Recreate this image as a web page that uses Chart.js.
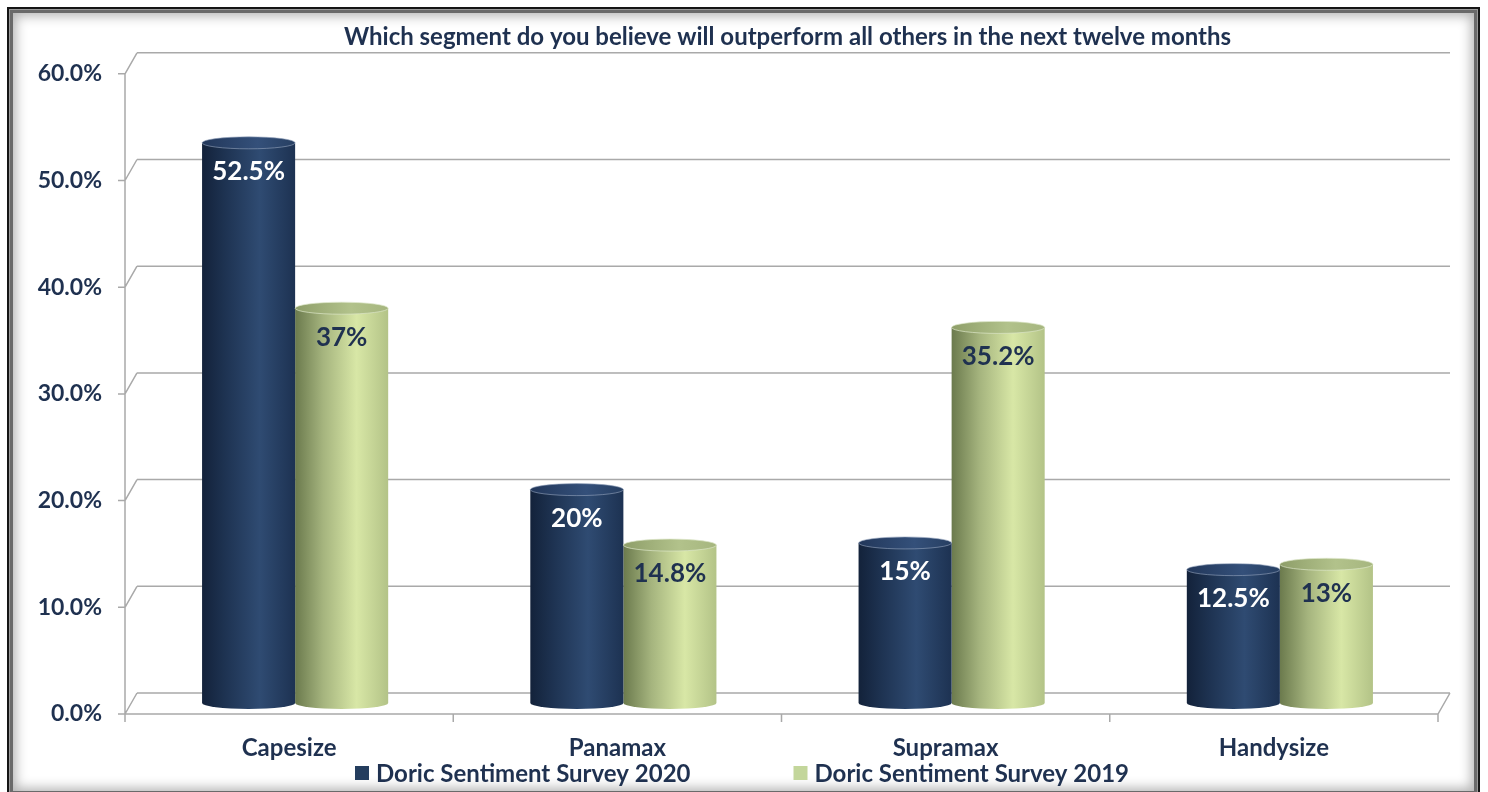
<!DOCTYPE html>
<html>
<head>
<meta charset="utf-8">
<script src="https://cdn.jsdelivr.net/npm/chart.js@4.4.0/dist/chart.umd.min.js"></script>
<style>
html, body { margin: 0; padding: 0; background: #fff; }
body { width: 1488px; height: 792px; overflow: hidden; position: relative; }
#frame {
    position: absolute; left: 7px; top: 7px; width: 1469px; height: 786px;
    border: 2px solid #151515;
    box-shadow: inset 0 0 0 1px #9a9a9a, inset 0 0 0 4px #6a6a6a, inset 0 0 12px 7px #b4b4b4;
}
#myChart { position: absolute; left: 0; top: 0; }
</style>
</head>
<body>
<div id="frame"></div>
<canvas id="myChart" width="1488" height="792"></canvas>
<script>
var segments = ['Capesize', 'Panamax', 'Supramax', 'Handysize'];
var survey2020 = [52.5, 20, 15, 12.5];
var survey2019 = [37, 14.8, 35.2, 13];
var seriesNames = ['Doric Sentiment Survey 2020', 'Doric Sentiment Survey 2019'];
var yMin = 0, yMax = 60, yStep = 10;

var navy = '#1f3150';
var fontName = 'Lato, "Open Sans", sans-serif';
var catPct = 0.567;

var darkStops = [[0, '#13223a'], [0.25, '#1e3352'], [0.62, '#2f4b72'], [1, '#1d3252']];
var greenStops = [[0, '#6b7a4d'], [0.3, '#a5b47e'], [0.66, '#d8e7a6'], [1, '#b3c387']];
var darkTop = [[0, '#22375a'], [0.6, '#34507a'], [1, '#273f62']];
var greenTop = [[0, '#8e9e69'], [0.6, '#b2c28b'], [1, '#a6b67f']];

function barCenter(chart, dsIndex, i) {
    var xs = chart.scales.x;
    var w = xs.width / segments.length * catPct / 2;
    return { cx: xs.getPixelForValue(i) + (dsIndex - 0.5) * w, w: w };
}

function hGradient(ctx, left, right, stops) {
    var g = ctx.createLinearGradient(left, 0, right, 0);
    stops.forEach(function (s) { g.addColorStop(s[0], s[1]); });
    return g;
}

function bodyFill(stops) {
    return function (c) {
        if (c.dataIndex === undefined || !c.chart.scales.x) return stops[2][1];
        var b = barCenter(c.chart, c.datasetIndex, c.dataIndex);
        if (!isFinite(b.cx) || !isFinite(b.w) || b.w <= 0) return stops[2][1];
        return hGradient(c.chart.ctx, b.cx - b.w / 2, b.cx + b.w / 2, stops);
    };
}

// 3D walls: back gridlines, left side edges, floor
var wallPlugin = {
    id: 'walls',
    beforeDatasetsDraw: function (chart) {
        var ctx = chart.ctx, a = chart.chartArea, ys = chart.scales.y, xs = chart.scales.x;
        var dx = 6, back = 10, front = 11;
        ctx.save();
        ctx.strokeStyle = '#a9a9a9';
        ctx.lineWidth = 1.5;
        ctx.beginPath();
        ys.ticks.forEach(function (t) {
            var py = ys.getPixelForValue(t.value);
            ctx.moveTo(a.left + dx, py - back);
            ctx.lineTo(a.right + dx, py - back);
            ctx.moveTo(a.left - dx, py + front);
            ctx.lineTo(a.left + dx, py - back);
            ctx.moveTo(a.left - dx - 7, py + front);
            ctx.lineTo(a.left - dx, py + front);
        });
        ctx.moveTo(a.left - dx, a.top + front);
        ctx.lineTo(a.left - dx, a.bottom + front);
        ctx.lineTo(a.right - dx, a.bottom + front);
        ctx.lineTo(a.right + dx, a.bottom - back);
        var half = (xs.getPixelForValue(1) - xs.getPixelForValue(0)) / 2;
        for (var i = 0; i <= segments.length; i++) {
            var px = xs.getPixelForValue(0) - half + i * 2 * half - dx;
            ctx.moveTo(px, a.bottom + front);
            ctx.lineTo(px, a.bottom + front + 8);
        }
        ctx.stroke();
        ctx.restore();
    }
};

// cylinder caps and value labels
var cylinderPlugin = {
    id: 'cylinders',
    afterDatasetsDraw: function (chart) {
        var ctx = chart.ctx;
        chart.data.datasets.forEach(function (ds, d) {
            var meta = chart.getDatasetMeta(d);
            meta.data.forEach(function (el, i) {
                var rx = el.width / 2, ry = 6;
                var l = el.x - rx, r = el.x + rx;
                ctx.save();
                // bottom rim
                ctx.beginPath();
                ctx.ellipse(el.x, el.base, rx, ry, 0, 0, Math.PI);
                ctx.fillStyle = hGradient(ctx, l, r, d === 0 ? darkStops : greenStops);
                ctx.fill();
                // top cap
                ctx.beginPath();
                ctx.ellipse(el.x, el.y, rx, ry, 0, 0, Math.PI * 2);
                ctx.fillStyle = hGradient(ctx, l, r, d === 0 ? darkTop : greenTop);
                ctx.fill();
                ctx.strokeStyle = d === 0 ? 'rgba(150,165,190,0.6)' : 'rgba(220,230,200,0.7)';
                ctx.lineWidth = 1;
                ctx.stroke();
                // value label
                ctx.font = 'bold 26px ' + fontName;
                ctx.textAlign = 'center';
                ctx.textBaseline = 'middle';
                ctx.fillStyle = d === 0 ? '#ffffff' : navy;
                ctx.fillText(ds.data[i] + '%', el.x, el.y + 29);
                ctx.restore();
            });
        });
    }
};

// legend at the bottom, with Excel-like spacing
var legendPlugin = {
    id: 'bottomLegend',
    afterDraw: function (chart) {
        var ctx = chart.ctx;
        var box = 14, gapBox = 7, gapItem = 103, y = 773;
        ctx.save();
        ctx.font = 'bold 24px ' + fontName;
        ctx.textBaseline = 'middle';
        ctx.textAlign = 'left';
        var widths = chart.data.datasets.map(function (ds) {
            return box + gapBox + ctx.measureText(ds.label).width;
        });
        var total = widths[0] + gapItem + widths[1];
        var x = 742 - total / 2;
        chart.data.datasets.forEach(function (ds, d) {
            ctx.fillStyle = ds.legendColor;
            ctx.fillRect(x, y - box / 2, box, box);
            ctx.fillStyle = navy;
            ctx.fillText(ds.label, x + box + gapBox, y + 1);
            x += widths[d] + gapItem;
        });
        ctx.restore();
    }
};

var ctx = document.getElementById('myChart');
var myChart = new Chart(ctx, {
    type: 'bar',
    data: {
        labels: segments,
        datasets: [{
            label: seriesNames[0],
            data: survey2020,
            backgroundColor: bodyFill(darkStops),
            legendColor: '#243d5e',
            borderWidth: 0
        }, {
            label: seriesNames[1],
            data: survey2019,
            backgroundColor: bodyFill(greenStops),
            legendColor: '#c3d69b',
            borderWidth: 0
        }]
    },
    options: {
        responsive: false,
        animation: false,
        layout: { padding: { left: 0, right: 44, top: 0, bottom: 32 } },
        datasets: { bar: { barPercentage: 1, categoryPercentage: catPct } },
        plugins: {
            legend: { display: false },
            tooltip: { enabled: false },
            title: {
                display: true,
                fullSize: false,
                text: 'Which segment do you believe will outperform all others in the next twelve months',
                color: navy,
                font: { family: fontName, size: 24, weight: 'bold', lineHeight: 1.2 },
                padding: { top: 23, bottom: 11 }
            }
        },
        scales: {
            x: {
                grid: { display: false, drawTicks: false },
                border: { display: false },
                afterFit: function (s) { s.height = 57; },
                ticks: {
                    color: navy,
                    padding: 31,
                    labelOffset: -6,
                    font: { family: fontName, size: 24, weight: 'bold', lineHeight: 1.2 }
                }
            },
            y: {
                min: yMin,
                max: yMax,
                grid: { display: false, drawTicks: false },
                border: { display: false },
                afterFit: function (s) { s.width = 131; },
                ticks: {
                    stepSize: yStep,
                    color: navy,
                    padding: 29,
                    labelOffset: 11,
                    font: { family: fontName, size: 23, weight: 'bold' },
                    callback: function (v) { return v.toFixed(1) + '%'; }
                }
            }
        }
    },
    plugins: [wallPlugin, cylinderPlugin, legendPlugin]
});
</script>
</body>
</html>
